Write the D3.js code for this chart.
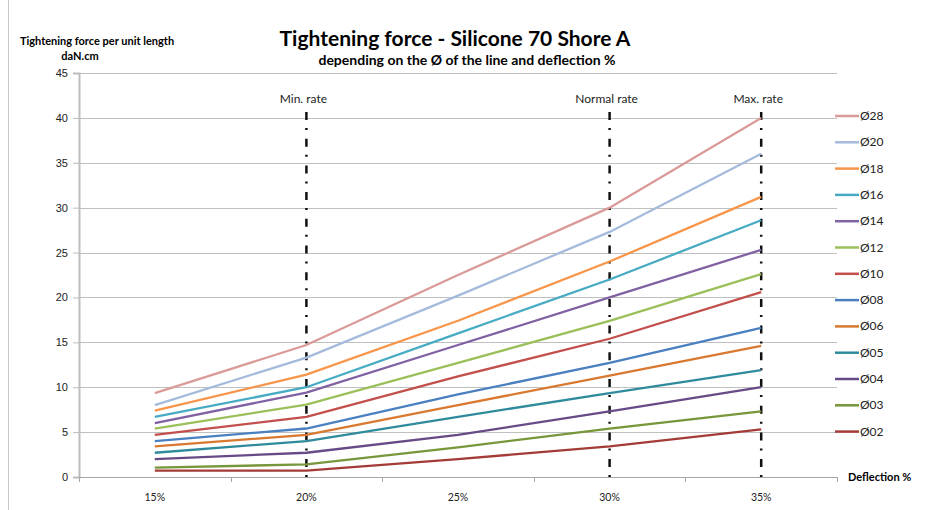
<!DOCTYPE html>
<html>
<head>
<meta charset="utf-8">
<script src="https://cdn.jsdelivr.net/npm/d3@7"></script>
<style>
	body { margin: 0; background: #fff; }
	svg { display: block; font-family: Lato, "Liberation Sans", sans-serif; }
	.grid line { stroke: #c0c0c0; stroke-width: 1; }
	.axis text { font-size: 11px; fill: #222; }
</style>
</head>
<body>
<svg width="942" height="510"></svg>
<script>
(function() {

	//DATA
	var categories = ['15%', '20%', '25%', '30%', '35%']
	var yTicks = [0, 5, 10, 15, 20, 25, 30, 35, 40, 45]

	var seriesNames = ['Ø28', 'Ø20', 'Ø18', 'Ø16', 'Ø14', 'Ø12', 'Ø10', 'Ø08', 'Ø06', 'Ø05', 'Ø04', 'Ø03', 'Ø02']
	var seriesColors = ['#d99a98', '#a5bbdc', '#f7954a', '#48abc4', '#8061a2', '#9bbf59', '#c24f4c', '#4a7fc0', '#d9782f', '#2f8b9c', '#674a86', '#78963a', '#a33b36']

	var d28 = [9.35, 14.7, 22.5, 30.0, 40.0]
	var d20 = [8.0, 13.3, 20.2, 27.3, 36.0]
	var d18 = [7.4, 11.4, 17.4, 24.0, 31.2]
	var d16 = [6.7, 10.0, 16.0, 22.0, 28.6]
	var d14 = [6.0, 9.4, 14.7, 20.0, 25.3]
	var d12 = [5.4, 8.05, 12.7, 17.4, 22.6]
	var d10 = [4.7, 6.7, 11.2, 15.4, 20.6]
	var d08 = [4.0, 5.4, 9.2, 12.7, 16.6]
	var d06 = [3.4, 4.7, 8.0, 11.3, 14.6]
	var d05 = [2.7, 4.0, 6.7, 9.35, 11.9]
	var d04 = [2.0, 2.7, 4.7, 7.3, 10.0]
	var d03 = [1.05, 1.4, 3.3, 5.4, 7.3]
	var d02 = [0.7, 0.7, 2.0, 3.4, 5.3]

	var seriesValues = [d28, d20, d18, d16, d14, d12, d10, d08, d06, d05, d04, d03, d02]

	var rateCategories = ['20%', '30%', '35%']
	var rateLabels = ['Min. rate', 'Normal rate', 'Max. rate']

	var title = 'Tightening force - Silicone 70 Shore A'
	var subtitle = 'depending on the Ø of the line and deflection %'
	var yTitle = ['Tightening force per unit length', 'daN.cm']
	var xTitle = 'Deflection %'

	//LAYOUT
	var margin = { top: 73, left: 79, right: 105, bottom: 33 }
	var W = 942, H = 510
	var width = W - margin.left - margin.right
	var height = H - margin.top - margin.bottom

	var svg = d3.select('svg')

	// chart frame (left edge)
	svg.append('line')
		.attr('x1', 8.5).attr('x2', 8.5)
		.attr('y1', 0).attr('y2', H)
		.style('stroke', '#c8c8c8')
		.style('stroke-width', 1)

	var g = svg.append('g')
		.attr('transform', 'translate(' + margin.left + ',' + margin.top + ')')

	//SCALES
	var x = d3.scalePoint()
		.domain(categories)
		.range([0, width])
		.padding(0.5)

	var xBand = d3.scaleBand()
		.domain(categories)
		.range([0, width])

	var y = d3.scaleLinear()
		.domain([0, 45])
		.range([height, 0])

	//GRID
	g.append('g')
		.attr('class', 'grid')
		.selectAll('line')
		.data(yTicks.filter(function(d) { return d > 0 }))
		.enter().append('line')
		.attr('x1', 0)
		.attr('x2', width)
		.attr('y1', function(d) { return Math.round(y(d)) + 0.5 })
		.attr('y2', function(d) { return Math.round(y(d)) + 0.5 })

	//AXES
	var axisY = d3.axisLeft(y)
		.tickValues(yTicks)
		.tickSize(6)
		.tickPadding(5)

	var gy = g.append('g').attr('class', 'axis axis--y').call(axisY)
	gy.select('.domain').style('stroke', '#bdbdbd').style('stroke-width', 2)
	gy.selectAll('.tick line').style('stroke', '#bdbdbd')

	var gx = g.append('g')
		.attr('class', 'axis axis--x')
		.attr('transform', 'translate(0,' + height + ')')

	gx.append('line')
		.attr('x1', 0).attr('x2', width)
		.attr('y1', 0.5).attr('y2', 0.5)
		.style('stroke', '#a6a6a6')

	var boundaries = categories.map(function(c) { return xBand(c) }).concat([width])
	gx.selectAll('.xtick')
		.data(boundaries)
		.enter().append('line')
		.attr('class', 'xtick')
		.attr('x1', function(d) { return Math.round(d) + 0.5 })
		.attr('x2', function(d) { return Math.round(d) + 0.5 })
		.attr('y1', 0).attr('y2', 5)
		.style('stroke', '#a6a6a6')

	gx.selectAll('.xlabel')
		.data(categories)
		.enter().append('text')
		.attr('class', 'xlabel')
		.attr('x', function(d) { return x(d) })
		.attr('y', 24)
		.attr('text-anchor', 'middle')
		.style('font-size', '10.5px')
		.style('fill', '#222')
		.text(function(d) { return d })

	//RATE LINES
	var rates = g.append('g').attr('class', 'rates')
	rateCategories.forEach(function(c, i) {
		rates.append('line')
			.attr('x1', x(c)).attr('x2', x(c))
			.attr('y1', 39).attr('y2', height + 4)
			.style('stroke', '#111')
			.style('stroke-width', 2.5)
			.style('stroke-dasharray', '8,8,2,8.7')

		rates.append('text')
			.attr('x', x(c) - 3)
			.attr('y', 30)
			.attr('text-anchor', 'middle')
			.style('font-size', '12px')
			.style('fill', '#222')
			.text(rateLabels[i])
	})

	//LINES
	var line = d3.line()
		.x(function(d, i) { return x(categories[i]) })
		.y(function(d) { return y(d) })

	g.append('g').attr('class', 'series')
		.selectAll('path')
		.data(seriesValues.slice().reverse())
		.enter().append('path')
		.attr('d', line)
		.style('fill', 'none')
		.style('stroke-width', 2.3)
		.style('stroke', function(d, i) { return seriesColors[seriesColors.length - 1 - i] })

	//LEGEND
	var legend = svg.append('g').attr('class', 'legend')
		.attr('transform', 'translate(835,116)')

	var item = legend.selectAll('.item')
		.data(seriesNames)
		.enter().append('g')
		.attr('class', 'item')
		.attr('transform', function(d, i) { return 'translate(0,' + (i * 26.3) + ')' })

	item.append('line')
		.attr('x1', 0).attr('x2', 24)
		.style('stroke-width', 2.5)
		.style('stroke', function(d, i) { return seriesColors[i] })

	item.append('text')
		.attr('x', 25)
		.attr('y', 4)
		.style('font-size', '12px')
		.style('fill', '#222')
		.text(function(d) { return d })

	//TITLES
	svg.append('text')
		.attr('x', 455).attr('y', 46)
		.attr('text-anchor', 'middle')
		.style('font-size', '21px')
		.style('font-weight', 'bold')
		.style('fill', '#000')
		.text(title)

	svg.append('text')
		.attr('x', 467).attr('y', 65)
		.attr('text-anchor', 'middle')
		.style('font-size', '14px')
		.style('font-weight', 'bold')
		.style('fill', '#000')
		.text(subtitle)

	svg.append('text')
		.attr('x', 97).attr('y', 45)
		.attr('text-anchor', 'middle')
		.style('font-size', '11px')
		.style('font-weight', 'bold')
		.style('fill', '#000')
		.text(yTitle[0])

	svg.append('text')
		.attr('x', 80).attr('y', 60)
		.attr('text-anchor', 'middle')
		.style('font-size', '11px')
		.style('font-weight', 'bold')
		.style('fill', '#000')
		.text(yTitle[1])

	svg.append('text')
		.attr('x', 848).attr('y', 481)
		.style('font-size', '11px')
		.style('font-weight', 'bold')
		.style('fill', '#000')
		.text(xTitle)

})()
</script>
</body>
</html>
